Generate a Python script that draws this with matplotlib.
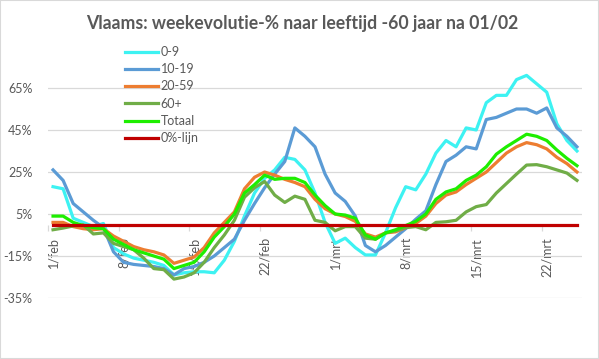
import numpy as np
import matplotlib
matplotlib.use('Agg')
import matplotlib.pyplot as plt
from matplotlib.patches import Rectangle

plt.rcParams['font.family'] = ['Lato', 'DejaVu Sans']

# dagen vanaf 1/feb (0..52 = 1/feb .. 25/mrt)
dagen = np.arange(53)
tick_dagen = [0, 7, 14, 21, 28, 35, 42, 49]
tick_labels = ['1/feb', '8/feb', '15/feb', '22/feb', '1/mrt', '8/mrt', '15/mrt', '22/mrt']

leeftijd_0_9 = [18, 17, 3, 1, -1, 0.5, -11, -14, -16, -17, -18, -19.5, -24, -23, -22.5,
                -22.5, -23, -17, -8, 4, 15, 22, 26, 32, 31, 26, 15, 1, -9, -6.5,
                -11, -14.5, -14.5, -4, 8, 18, 16.5, 24, 34, 40, 37, 46, 45, 58, 61.5,
                61.5, 69, 71, 67, 63, 48, 40, 35]
leeftijd_10_19 = [26, 21, 10, 6, 2, -1.5, -13, -18, -19, -19.5, -20, -21, -24, -21, -20,
                  -18, -15, -11, -7, 2, 10, 17.5, 24, 30, 46, 42, 37, 24, 15, 11,
                  4, -10, -13, -10, -6, -2, 2.5, 6.5, 19, 30, 33, 37, 36, 50, 51,
                  53, 55, 55, 53, 55.5, 46, 42, 37]
leeftijd_20_59 = [1, 1, -1, -2, -2.5, -2, -5.5, -8, -10.5, -12, -13, -14.5, -18.5, -17, -15.5,
                  -11, -4, 1, 6, 17, 22.5, 25, 23.5, 21.5, 20, 18, 12, 7.5, 5, 3.8,
                  1.5, -4.5, -6, -4, -3.5, -1.5, 0.5, 4, 10, 14, 15.5, 19, 22, 25, 29.5,
                  34, 37, 39, 38, 36, 32, 29, 25]
leeftijd_60plus = [-2.5, -1.7, -0.7, -0.2, -4.5, -4, -9, -10.5, -12, -16, -21, -21.5, -26, -25, -23,
                   -18, -11, -5, 2, 13, 17.5, 20.5, 14, 10.5, 13.5, 12, 2, 1, -3, -1,
                   -1, -6.5, -7, -4, -3, -1.5, -1, -2.5, 1, 1.3, 2, 6, 8.5, 9.5, 15,
                   19.5, 24, 28.3, 28.5, 27.5, 26, 24.5, 21]
totaal = [4, 4, 1, -0.5, -1.5, -2, -7, -9.5, -12, -13.5, -15, -16.5, -21, -19.5, -18,
          -13, -6, -1, 5, 15, 19, 23.5, 21.5, 22, 22, 20, 14, 9, 5, 4.5,
          3, -5, -7, -4, -2.5, -0.5, 1.5, 5, 12, 15.5, 17, 21, 23.5, 27.5, 33.5,
          37, 40, 43, 42, 40, 35.5, 31.5, 28]
nul_lijn = [0] * 53

series = [
    ('0-9', leeftijd_0_9, '#3DF2F2'),
    ('10-19', leeftijd_10_19, '#5B9BD5'),
    ('20-59', leeftijd_20_59, '#ED7D31'),
    ('60+', leeftijd_60plus, '#70AD47'),
    ('Totaal', totaal, '#1EEE00'),
    ('0%-lijn', nul_lijn, '#C00000'),
]

W, H = 599, 359
fig = plt.figure(figsize=(W / 100, H / 100), dpi=100)
ax = fig.add_axes([48 / W, (H - 298) / H, (582 - 48) / W, (298 - 67) / H])

for naam, waarden, kleur in series:
    ax.plot(dagen, waarden, color=kleur, lw=2.3, label=naam, solid_joinstyle='round')

ax.set_xlim(-0.5, 52.5)
ax.set_ylim(-35, 75)
ax.set_yticks([-35, -15, 5, 25, 45, 65])
ax.set_yticklabels([f'{v}%' for v in [-35, -15, 5, 25, 45, 65]])
ax.yaxis.grid(True, color='#D9D9D9', lw=0.9)
ax.set_axisbelow(True)
ax.tick_params(axis='y', length=0, pad=11, labelsize=9, labelcolor='#595959')

for s in ['top', 'right', 'left']:
    ax.spines[s].set_visible(False)
ax.spines['bottom'].set_position(('data', 0))
ax.spines['bottom'].set_visible(False)

ax.set_xticks(tick_dagen)
ax.set_xticklabels(tick_labels, rotation=90)
ax.set_xticks([d - 0.5 for d in tick_dagen], minor=True)
ax.tick_params(axis='x', which='major', length=0, pad=9, labelsize=9, labelcolor='#595959')
ax.tick_params(axis='x', which='minor', length=4, color='#D9D9D9', width=0.9)

fig.text(0.505, 1 - 23 / H, 'Vlaams: weekevolutie-% naar leeftijd -60 jaar na 01/02',
         ha='center', va='center', fontsize=12.7, fontweight='bold', color='#595959')

fig.legend(loc='upper left', bbox_to_anchor=(125 / W, 1 - 46 / H), frameon=False,
           fontsize=9, labelcolor='#595959', handlelength=2.6, handletextpad=0.25,
           labelspacing=0.42, borderpad=0, borderaxespad=0)

fig.patches.append(Rectangle((0, 0), 1, 1, transform=fig.transFigure, fill=False,
                             edgecolor='#D9D9D9', lw=1.5))

fig.savefig('out.png', dpi=100)
